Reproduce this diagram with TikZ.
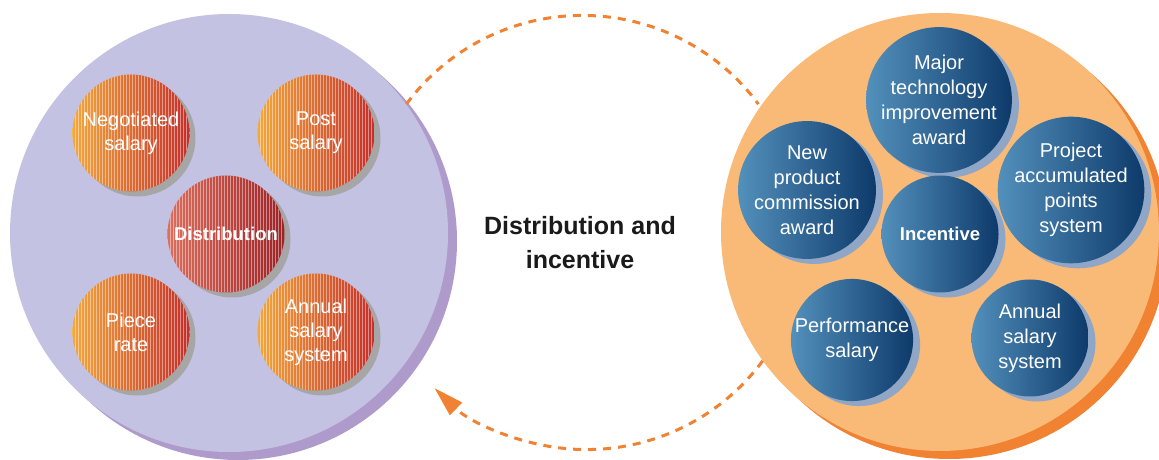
\documentclass[tikz,border=0pt]{standalone}
\usepackage{fontspec}
\setmainfont{Liberation Sans}
\usetikzlibrary{shadows,arrows.meta}
\definecolor{lav}{HTML}{C4C2E2}
\definecolor{lavshadow}{HTML}{AE9ACB}
\definecolor{peach}{HTML}{F9BA78}
\definecolor{dorange}{HTML}{F08232}
\definecolor{wA}{HTML}{F3A83C}
\definecolor{wB}{HTML}{E27A36}
\definecolor{wC}{HTML}{C42E2A}
\definecolor{rA}{HTML}{DC6E5E}
\definecolor{rB}{HTML}{C2443C}
\definecolor{rC}{HTML}{9C2226}
\definecolor{bA}{HTML}{5390BC}
\definecolor{bB}{HTML}{235F92}
\definecolor{bC}{HTML}{0D3A6A}
\definecolor{bshadow}{HTML}{8FA6C6}
\definecolor{gshadow}{HTML}{A6A6A6}
\definecolor{titlecol}{HTML}{1A1A1A}
\begin{document}
\begin{tikzpicture}[x=1pt,y=1pt,
  bigcirc/.style={circle, minimum size=438pt, inner sep=0pt},
  ball/.style={circle, minimum size=117pt, inner sep=0pt, text=white, align=center,
    font=\fontsize{20}{24}\selectfont},
  stripes/.style={path picture={\foreach \k in {0,3,...,120}{
      \draw[white, opacity=0.45, line width=0.9pt]
        ([xshift=\k pt]path picture bounding box.south west) --
        ([xshift=\k pt]path picture bounding box.north west);}}},
  warm/.style={ball, left color=wA, middle color=wB, right color=wC, stripes,
    drop shadow={shadow xshift=6pt, shadow yshift=-5pt, fill=gshadow, opacity=1}},
  hot/.style={ball, left color=rA, middle color=rB, right color=rC, stripes,
    drop shadow={shadow xshift=6pt, shadow yshift=-5pt, fill=gshadow, opacity=1}},
  cool/.style={ball, left color=bA, middle color=bB, right color=bC,
    font=\fontsize{20}{25}\selectfont,
    drop shadow={shadow xshift=7pt, shadow yshift=-5pt, fill=bshadow, opacity=1}},
  conn/.style={draw=dorange, line width=3pt, dash pattern=on 8pt off 7pt}
]
\useasboundingbox (0,0) rectangle (1159,460);

% big circles
\node[bigcirc, fill=lav,
  drop shadow={shadow xshift=9pt, shadow yshift=-8pt, fill=lavshadow, opacity=1}]
  (left) at (229,227) {};
\node[bigcirc, fill=peach,
  drop shadow={shadow xshift=9pt, shadow yshift=-8pt, fill=dorange, opacity=1}]
  (right) at (940,228) {};

% dashed cycle
\path[conn] (left.36.5) arc[start angle=143.5, end angle=36.5, radius=219pt];
\path[conn, -{Triangle[length=30pt,width=17pt]}]
  (right.216) arc[start angle=-36.5, end angle=-134, radius=219pt];

% left balls
\node[warm] (neg) at (131,327) {Negotiated\\salary};
\node[warm] (post) at (316,327) {Post\\salary};
\node[hot, font=\bfseries\fontsize{18.5}{22}\selectfont] (dist) at (226,226) {Distribution};
\node[warm] (piece) at (131,128) {Piece\\rate};
\node[warm] (annL) at (316,128) {Annual\\salary\\system};

% right balls
\node[cool] (major) at (939,360) {Major\\technology\\improvement\\award};
\node[cool] (newp) at (807,270) {New\\product\\commission\\award};
\node[cool] (proj) at (1071,270) {Project\\accumulated\\points\\system};
\node[cool, font=\bfseries\fontsize{18.5}{22}\selectfont] (inc) at (940,226) {Incentive};
\node[cool] (perf) at (852,120) {Performance\\salary};
\node[cool] (annR) at (1030,122) {Annual\\salary\\system};

% title
\node[text=titlecol, align=center, font=\bfseries\fontsize{25}{34}\selectfont]
  (title) at (580,217) {Distribution and\\incentive};
\end{tikzpicture}
\end{document}
